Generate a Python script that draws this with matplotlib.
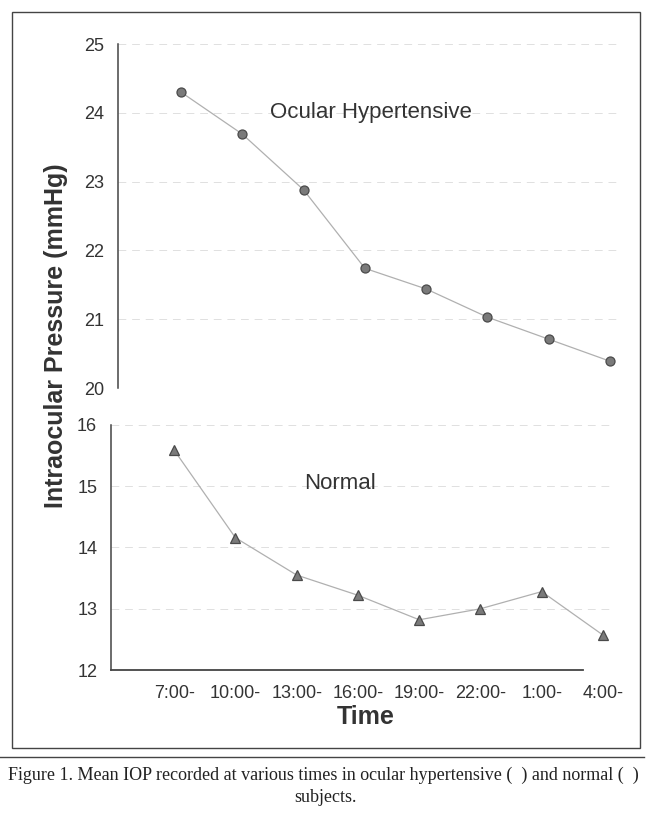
import matplotlib
matplotlib.use("Agg")
import matplotlib.pyplot as plt
from matplotlib.patches import Rectangle
from matplotlib.lines import Line2D

# data
times = ["7:00-", "10:00-", "13:00-", "16:00-", "19:00-", "22:00-", "1:00-", "4:00-"]
hypertensive = [24.30, 23.69, 22.88, 21.74, 21.44, 21.03, 20.71, 20.39]
normal = [15.59, 14.16, 13.55, 13.22, 12.82, 13.00, 13.28, 12.57]
top_ticks = [20, 21, 22, 23, 24, 25]
bottom_ticks = [12, 13, 14, 15, 16]

sans = ["Liberation Sans", "DejaVu Sans"]
serif = ["Liberation Serif", "DejaVu Serif"]
ink = "#333333"

fig = plt.figure(figsize=(6.5, 8.14), dpi=100)

ax_top = fig.add_axes([0.1815, 0.5233, 0.772, 0.4226])
ax_bot = fig.add_axes([0.1708, 0.1769, 0.772, 0.3010])

x = list(range(len(times)))

ax_top.plot(x, hypertensive, color="#b0b0b0", lw=0.9, marker="o", ms=6.5,
            mfc="#7a7a7a", mec="#4a4a4a", mew=0.9, clip_on=False, zorder=3)
ax_bot.plot(x, normal, color="#b0b0b0", lw=0.9, marker="^", ms=7.5,
            mfc="#7a7a7a", mec="#4a4a4a", mew=0.9, clip_on=False, zorder=3)

for ax, ticks in ((ax_top, top_ticks), (ax_bot, bottom_ticks)):
    ax.set_xlim(-1.03, 7.16)
    ax.set_ylim(ticks[0], ticks[-1])
    ax.set_yticks(ticks)
    ax.yaxis.grid(True, color="#e0e0e0", lw=0.7, ls=(0, (8, 6)))
    ax.set_axisbelow(True)
    for s in ("top", "right"):
        ax.spines[s].set_visible(False)
    ax.spines["left"].set_color("#444444")
    ax.spines["left"].set_linewidth(1.1)
    ax.tick_params(axis="y", length=0, pad=10, labelsize=13, labelcolor=ink)
    for lab in ax.get_yticklabels():
        lab.set_family(sans)

ax_top.spines["bottom"].set_visible(False)
ax_top.set_xticks([])

ax_bot.spines["bottom"].set_color("#444444")
ax_bot.spines["bottom"].set_linewidth(1.3)
ax_bot.spines["bottom"].set_bounds(-1.03, 6.67)
ax_bot.set_xticks(x)
ax_bot.set_xticklabels(times, family=sans, fontsize=13, color=ink)
ax_bot.tick_params(axis="x", length=0, pad=11)

ax_top.text(3.1, 24.0, "Ocular Hypertensive", family=sans, fontsize=16,
            color=ink, ha="center", va="center")
ax_bot.text(2.7, 15.05, "Normal", family=sans, fontsize=16,
            color=ink, ha="center", va="center")

fig.text(0.562, 0.119, "Time", family=sans, fontsize=18, fontweight="bold",
         color=ink, ha="center", va="center")
fig.text(0.086, 0.587, "Intraocular Pressure (mmHg)", family=sans, fontsize=18,
         fontweight="bold", color=ink, rotation=90, ha="center", va="center")

# frame and caption
fig.patches.append(Rectangle((0.018, 0.081), 0.967, 0.904, transform=fig.transFigure,
                             fill=False, ec="#444444", lw=1.0))
fig.lines.append(Line2D([0.0, 0.99], [0.070, 0.070], transform=fig.transFigure,
                        color="#444444", lw=1.0))
fig.text(0.497, 0.047, "Figure 1. Mean IOP recorded at various times in ocular hypertensive (  ) and normal (  )",
         family=serif, fontsize=13, color="#222222", ha="center", va="center")
fig.text(0.5, 0.020, "subjects.", family=serif, fontsize=13, color="#222222",
         ha="center", va="center")

fig.savefig("out.png", dpi=100)
